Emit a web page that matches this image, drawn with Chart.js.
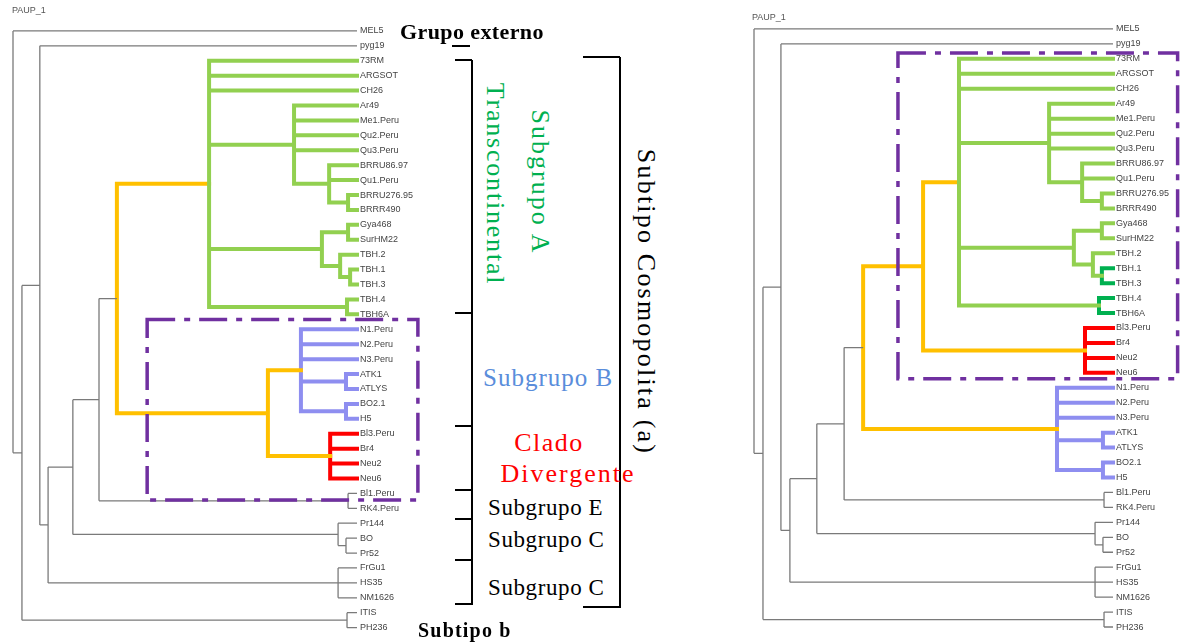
<!DOCTYPE html>
<html>
<head>
<meta charset="utf-8">
<script src="https://cdn.jsdelivr.net/npm/chart.js@4.4.1/dist/chart.umd.min.js"></script>
<style>
body{margin:0;background:#fff;width:1181px;height:642px;overflow:hidden;position:relative;font-family:"Liberation Serif",serif}
#left{position:absolute;left:0;top:0;width:440px;height:642px}
#right{position:absolute;left:740px;top:0;width:441px;height:642px}
.t{position:absolute;white-space:nowrap;line-height:1}
.rot{transform:translate(-50%,-50%) rotate(90deg)}
.ln{position:absolute;background:#000}
.paup{position:absolute;font:9px "Liberation Sans",sans-serif;color:#555}
</style>
</head>
<body>
<div id="left"><canvas id="cL"></canvas></div>
<div id="right"><canvas id="cR"></canvas></div>

<div class="paup" style="left:12px;top:5px">PAUP_1</div>
<div class="paup" style="left:752px;top:12px">PAUP_1</div>

<div class="t" style="left:400px;top:21px;font-size:22px;letter-spacing:0.4px;font-weight:bold">Grupo externo</div>
<div class="ln" style="left:452px;top:45px;width:18px;height:2px"></div>

<div class="ln" style="left:471px;top:60px;width:2px;height:545px"></div>
<div class="ln" style="left:455px;top:59px;width:17px;height:2px"></div>
<div class="ln" style="left:455px;top:312px;width:17px;height:2px"></div>
<div class="ln" style="left:455px;top:425px;width:17px;height:2px"></div>
<div class="ln" style="left:455px;top:489px;width:17px;height:2px"></div>
<div class="ln" style="left:455px;top:518px;width:17px;height:2px"></div>
<div class="ln" style="left:455px;top:559px;width:17px;height:2px"></div>
<div class="ln" style="left:455px;top:603px;width:17px;height:2px"></div>

<div class="ln" style="left:619px;top:57px;width:2px;height:551px"></div>
<div class="ln" style="left:583px;top:56px;width:37px;height:2px"></div>
<div class="ln" style="left:583px;top:606px;width:37px;height:2px"></div>

<div class="t rot" style="left:540px;top:182px;font-size:26px;letter-spacing:2px;color:#00b050">Subgrupo A</div>
<div class="t rot" style="left:495px;top:184px;font-size:26px;letter-spacing:1.8px;color:#00b050">Transcontinental</div>
<div class="t rot" style="left:646px;top:302px;font-size:26px;letter-spacing:2.2px;color:#000">Subtipo Cosmopolita (a)</div>
<div class="t" style="left:483px;top:365px;font-size:25px;letter-spacing:1px;color:#5a8ddb">Subgrupo B</div>
<div class="t" style="left:549px;top:430px;font-size:26px;letter-spacing:1.5px;color:#ff0000;transform:translateX(-50%)">Clado</div>
<div class="t" style="left:568px;top:461px;font-size:26px;letter-spacing:2px;color:#ff0000;transform:translateX(-50%)">Divergente</div>
<div class="t" style="left:488px;top:496px;font-size:23px;letter-spacing:0.6px">Subgrupo E</div>
<div class="t" style="left:488px;top:528px;font-size:23px;letter-spacing:0.6px">Subgrupo C</div>
<div class="t" style="left:488px;top:576px;font-size:23px;letter-spacing:0.6px">Subgrupo C</div>
<div class="t" style="left:418px;top:620px;font-size:20px;letter-spacing:1.2px;font-weight:bold">Subtipo b</div>

<script>
// leaf order of each tree (top to bottom)
const leftLeaves = ["MEL5", "pyg19", "73RM", "ARGSOT", "CH26", "Ar49", "Me1.Peru", "Qu2.Peru", "Qu3.Peru",
    "BRRU86.97", "Qu1.Peru", "BRRU276.95", "BRRR490", "Gya468", "SurHM22", "TBH.2", "TBH.1", "TBH.3",
    "TBH.4", "TBH6A", "N1.Peru", "N2.Peru", "N3.Peru", "ATK1", "ATLYS", "BO2.1", "H5", "Bl3.Peru", "Br4",
    "Neu2", "Neu6", "Bl1.Peru", "RK4.Peru", "Pr144", "BO", "Pr52", "FrGu1", "HS35", "NM1626", "ITIS", "PH236"];

const rightLeaves = ["MEL5", "pyg19", "73RM", "ARGSOT", "CH26", "Ar49", "Me1.Peru", "Qu2.Peru", "Qu3.Peru",
    "BRRU86.97", "Qu1.Peru", "BRRU276.95", "BRRR490", "Gya468", "SurHM22", "TBH.2", "TBH.1", "TBH.3",
    "TBH.4", "TBH6A", "Bl3.Peru", "Br4", "Neu2", "Neu6", "N1.Peru", "N2.Peru", "N3.Peru", "ATK1", "ATLYS",
    "BO2.1", "H5", "Bl1.Peru", "RK4.Peru", "Pr144", "BO", "Pr52", "FrGu1", "HS35", "NM1626", "ITIS", "PH236"];

// topology: (children)depth:colour   depth 0 = root, 100 = tips
const leftTree = "(MEL5,((pyg19,(((((73RM,ARGSOT,CH26,(Ar49,Me1.Peru,Qu2.Peru,Qu3.Peru,(BRRU86.97,Qu1.Peru,(BRRU276.95,BRRR490)97.4:g)91.9:g)81.7:g," +
    "((Gya468,SurHM22)97.4:g,(TBH.2,(TBH.1,TBH.3)98:g)95.1:g)89.8:g,(TBH.4,TBH6A)97.1:g)57:g," +
    "((N1.Peru,N2.Peru,N3.Peru,(ATK1,ATLYS)96.8:b,(BO2.1,H5)96.8:b)83.7:b,(Bl3.Peru,Br4,Neu2,Neu6)92.2:r)74.1:o)30.2:o," +
    "(Bl1.Peru,RK4.Peru)97.4)25,(Pr144,(BO,Pr52)96.8)94.5)17.4,(FrGu1,HS35,NM1626)94.5)10.2)7.8,(ITIS,PH236)97.1)2.6)0";

const rightTree = "(MEL5,((pyg19,((((((73RM,ARGSOT,CH26,(Ar49,Me1.Peru,Qu2.Peru,Qu3.Peru,(BRRU86.97,Qu1.Peru,(BRRU276.95,BRRR490)96.9:g)91.4:g)82.2:g," +
    "((Gya468,SurHM22)96.9:g,(TBH.2,(TBH.1,TBH.3)96.9:d)94.4:g)89.1:g,(TBH.4,TBH6A)96.1:d)57.1:g,(Bl3.Peru,Br4,Neu2,Neu6)92.2:r)47.1:o," +
    "(N1.Peru,N2.Peru,N3.Peru,(ATK1,ATLYS)97.2:b,(BO2.1,H5)97.2:b)84.4:b)30.4:o," +
    "(Bl1.Peru,RK4.Peru)97.5)25.1,(Pr144,(BO,Pr52)97.2)95)17.5,(FrGu1,HS35,NM1626)95)10)7.5,(ITIS,PH236)97.5)2.5)0";

// dash-dot boxes: [x from, x to, leaf from, leaf to]
const leftBox = [39, 117.7, 19.35, 31.45];
const rightBox = [40.1, 118, 1.6, 23.4];

const styles = {
    k: { color: "#7a7a7a", width: 1.3 },
    g: { color: "#92d050", width: 4 },
    d: { color: "#00b050", width: 4 },
    o: { color: "#ffc000", width: 4 },
    b: { color: "#8e8ef0", width: 4 },
    r: { color: "#ff0000", width: 4 }
};

function parseTree(s) {
    let i = 0;
    function node() {
        if (s[i] === "(") {
            i++;
            const kids = [node()];
            while (s[i] === ",") { i++; kids.push(node()); }
            i++;
            const m = /^([\d.]+)(?::(\w))?/.exec(s.slice(i));
            i += m[0].length;
            return { kids: kids, depth: +m[1], style: m[2] || "k" };
        }
        const m = /^[^,()]+/.exec(s.slice(i));
        i += m[0].length;
        return { name: m[0] };
    }
    return node();
}

function place(n, leaves) {
    if (n.name) { n.x = 100; n.y = leaves.indexOf(n.name); return; }
    n.kids.forEach(k => place(k, leaves));
    n.x = n.depth;
    n.y = (n.kids[0].y + n.kids[n.kids.length - 1].y) / 2;
}

function collect(n, out) {
    if (!n.kids) return;
    const list = out[n.style] || (out[n.style] = []);
    const last = n.kids[n.kids.length - 1];
    list.push({ x: n.x, y: n.kids[0].y }, { x: n.x, y: last.y }, { x: n.x, y: null });
    n.kids.forEach(k => {
        list.push({ x: n.x, y: k.y }, { x: k.x, y: k.y }, { x: k.x, y: null });
        collect(k, out);
    });
}

const boxPlugin = {
    id: "box",
    afterDatasetsDraw(chart, args, opts) {
        const b = opts.rect;
        const xs = chart.scales.x, ys = chart.scales.y;
        const ctx = chart.ctx;
        const x1 = xs.getPixelForValue(b[0]), x2 = xs.getPixelForValue(b[1]);
        const y1 = ys.getPixelForValue(b[2]), y2 = ys.getPixelForValue(b[3]);
        ctx.save();
        ctx.strokeStyle = "#7030a0";
        ctx.lineWidth = 3.5;
        ctx.setLineDash([28, 9, 6, 9]);
        ctx.strokeRect(x1, y1, x2 - x1, y2 - y1);
        ctx.restore();
    }
};

function drawTree(id, tree, leaves, box, pad, axisWidth) {
    const root = parseTree(tree);
    place(root, leaves);
    const segs = {};
    collect(root, segs);
    const order = ["k", "g", "d", "o", "b", "r"];
    const datasets = order.filter(s => segs[s]).map(s => ({
        data: segs[s],
        borderColor: styles[s].color,
        borderWidth: styles[s].width,
        borderCapStyle: s === "k" ? "butt" : "square",
        pointRadius: 0,
        fill: false,
        spanGaps: false,
        clip: false
    }));

    new Chart(id, {
        type: "line",
        data: { datasets: datasets },
        plugins: [boxPlugin],
        options: {
            responsive: true,
            maintainAspectRatio: false,
            animation: false,
            layout: { padding: pad },
            plugins: {
                legend: { display: false },
                tooltip: { enabled: false },
                box: { rect: box }
            },
            scales: {
                x: { type: "linear", min: 0, max: 100, display: false },
                y: {
                    type: "linear",
                    position: "right",
                    reverse: true,
                    min: -0.6,
                    max: 40.4,
                    grid: { display: false, drawTicks: false },
                    border: { display: false },
                    afterBuildTicks: s => { s.ticks = leaves.map((_, i) => ({ value: i })); },
                    afterFit: s => { s.width = axisWidth; },
                    ticks: {
                        autoSkip: false,
                        padding: 3,
                        color: "#444",
                        font: { family: "Liberation Sans", size: 9 },
                        callback: v => leaves[v]
                    }
                }
            }
        }
    });
}

drawTree("cL", leftTree, leftLeaves, leftBox, { left: 13, top: 22, bottom: 1, right: 0 }, 83);
drawTree("cR", rightTree, rightLeaves, rightBox, { left: 14, top: 20, bottom: 9, right: 0 }, 68);
</script>
</body>
</html>
